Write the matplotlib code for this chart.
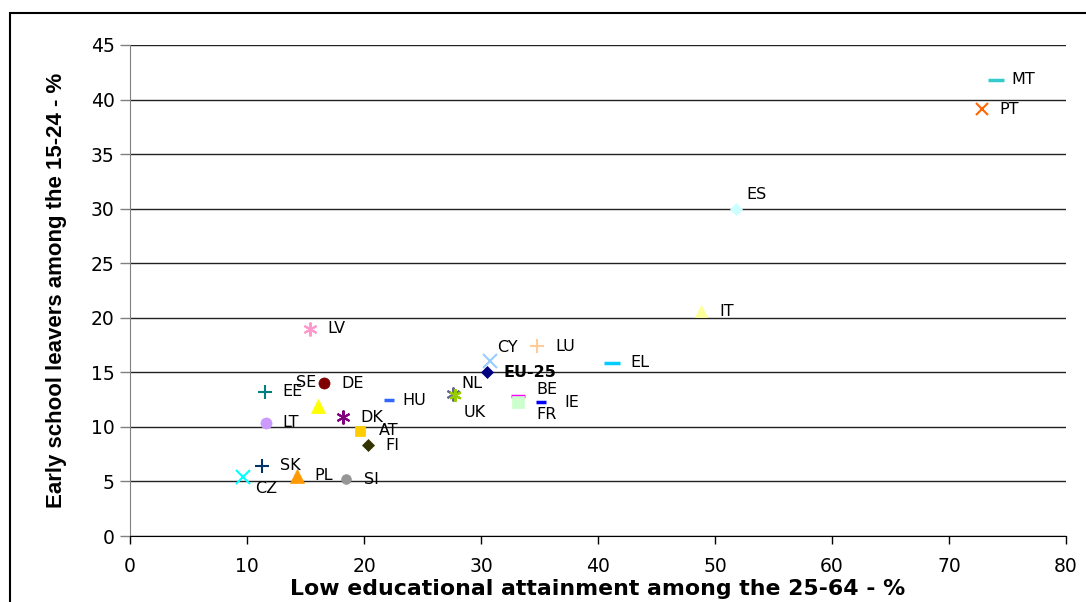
import matplotlib
matplotlib.use("Agg")
import matplotlib.pyplot as plt
from matplotlib.patches import Rectangle

countries = ["MT", "PT", "ES", "IT", "EL", "LU", "CY", "EU-25", "NL", "UK", "BE", "FR", "IE",
             "HU", "DE", "SE", "EE", "LV", "LT", "DK", "AT", "FI", "SK", "CZ", "PL", "SI"]
low_attainment = [74.0, 72.8, 51.8, 48.8, 41.2, 34.8, 30.8, 30.5, 27.6, 27.8, 33.2, 33.2, 35.1,
                  22.1, 16.6, 16.1, 11.5, 15.4, 11.6, 18.2, 19.7, 20.3, 11.3, 9.7, 14.3, 18.5]
early_leavers = [41.8, 39.1, 30.0, 20.6, 15.9, 17.4, 16.0, 15.0, 13.0, 12.9, 12.8, 12.3, 12.3,
                 12.5, 14.0, 11.9, 13.2, 19.0, 10.4, 10.9, 9.6, 8.3, 6.4, 5.4, 5.5, 5.2]

# styles: marker, colour, size
styles = {
    "MT": ("_", "#33cccc", 11), "PT": ("x", "#ff6600", 9), "ES": ("D", "#ccffff", 6),
    "IT": ("^", "#ffff99", 9), "EL": ("_", "#00ccff", 11), "LU": ("+", "#ffcc99", 10),
    "CY": ("x", "#99ccff", 10), "EU-25": ("D", "#000080", 6), "NL": ((6, 2, 0), "#666699", 10),
    "UK": ((6, 2, 0), "#99cc00", 9), "BE": ("_", "#ff00ff", 10), "FR": ("s", "#ccffcc", 8),
    "IE": ("_", "#0000ff", 7), "HU": ("_", "#3366ff", 7), "DE": ("o", "#800000", 8),
    "SE": ("^", "#ffff00", 10), "EE": ("+", "#008080", 10), "LV": ((6, 2, 0), "#ff99cc", 10),
    "LT": ("o", "#cc99ff", 8), "DK": ((6, 2, 0), "#800080", 10), "AT": ("s", "#ffcc00", 7),
    "FI": ("D", "#333300", 6), "SK": ("+", "#003366", 10), "CZ": ("x", "#00ffff", 10),
    "PL": ("^", "#ff9900", 10), "SI": ("o", "#969696", 7),
}
# label offsets in pixels (dx right, dy down)
offsets = {
    "MT": (16, 0), "PT": (18, 0), "ES": (10, -14), "IT": (18, 0), "EL": (18, 0),
    "LU": (18, 0), "CY": (7, -14), "EU-25": (17, 0), "NL": (8, -11), "UK": (8, 17),
    "BE": (18, -7), "FR": (18, 13), "IE": (24, 1), "HU": (14, 1), "DE": (17, 0),
    "SE": (-22, -24), "EE": (18, 0), "LV": (17, 0), "LT": (17, 0), "DK": (17, 0),
    "AT": (18, -1), "FI": (18, 0), "SK": (18, -1), "CZ": (12, 11), "PL": (17, 0),
    "SI": (18, 0),
}

W, H = 1086, 602
fig = plt.figure(figsize=(W / 100, H / 100), dpi=100)
fig.patches.append(Rectangle((10 / W, -0.05), 1.1, 1 - 13 / H + 0.05, transform=fig.transFigure,
                             fill=False, edgecolor="black", linewidth=1.5))
ax = fig.add_axes([130 / W, 66 / H, 936 / W, 491 / H])

for c, x, y in zip(countries, low_attainment, early_leavers):
    m, col, s = styles[c]
    lw = 2.5 if m == "_" else 1.5
    ax.plot(x, y, linestyle="none", marker=m, color=col, markersize=s,
            markeredgewidth=lw if m in ("_", "x", "+") or isinstance(m, tuple) else 0.5,
            markeredgecolor=col, zorder=3)
    dx, dy = offsets[c]
    ax.annotate(c, (x, y), xytext=(dx * 0.72, -dy * 0.72), textcoords="offset points",
                ha="left", va="center", fontsize=11.5, family="DejaVu Sans",
                fontweight="bold" if c == "EU-25" else "normal", zorder=4)

ax.set_xlim(0, 80)
ax.set_ylim(0, 45)
ax.set_xticks(range(0, 81, 10))
ax.set_yticks(range(0, 46, 5))
ax.yaxis.grid(True, color="#222222", linewidth=1.0)
ax.set_axisbelow(True)
for s in ("top", "right"):
    ax.spines[s].set_visible(False)
ax.spines["left"].set_color("#808080")
ax.spines["bottom"].set_color("black")
ax.tick_params(axis="y", direction="out", length=7, width=1, color="#808080", pad=4, labelsize=13.5)
ax.tick_params(axis="x", direction="out", length=6, width=1, color="black", pad=9, labelsize=13.5)
ax.set_xlabel("Low educational attainment among the 25-64 - %", family="DejaVu Sans",
              fontweight="bold", fontsize=15.8, labelpad=2)
ax.set_ylabel("Early school leavers among the 15-24 - %", family="Liberation Sans",
              fontweight="bold", fontsize=16, labelpad=17)

fig.savefig("out.png", dpi=100)
